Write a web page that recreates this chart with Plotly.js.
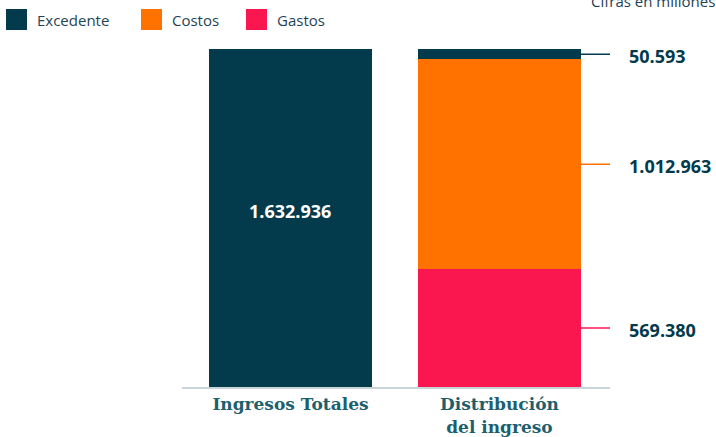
<!DOCTYPE html>
<html>
<head>
<meta charset="utf-8">
<script src="https://cdn.plot.ly/plotly-3.0.1.min.js"></script>
<style>html,body{margin:0;padding:0;background:#fff;overflow:hidden}#chart{width:716px;height:437px}</style>
</head>
<body>
<div id="chart"></div>
<script>
// ---- data ----
const categories = ['Ingresos Totales', 'Distribución<br>del ingreso'];
const ingresosTotales = [1632936];
const gastos = [569380];
const costos = [1012963];
const excedente = [50593];
const legendNames = ['Excedente', 'Costos', 'Gastos'];
const unitNote = 'Cifras en millones';

// ---- styling ----
const C = {Excedente: '#033a4c', Costos: '#ff7200', Gastos: '#fa164f'};
const W = 716, H = 437;
const M = {l: 182, r: 106, t: 49, b: 50};
const pw = W - M.l - M.r, ph = H - M.t - M.b;
const px = x => (x - M.l) / pw;
const py = y => (H - M.b - y) / ph;
const BW = 0.78;
const fmt = v => String(v).replace(/\B(?=(\d{3})+(?!\d))/g, '.');
const numFont = {family: 'Open Sans', size: 18, color: '#033a4c', weight: 700};

const traces = [
  {type: 'bar', x: [categories[0]], y: ingresosTotales, width: BW, marker: {color: C.Excedente},
   textposition: 'none', hoverinfo: 'none', showlegend: false},
  {type: 'bar', name: 'Gastos', x: [categories[1]], y: gastos, width: BW, marker: {color: C.Gastos}, textposition: 'none', showlegend: false},
  {type: 'bar', name: 'Costos', x: [categories[1]], y: costos, width: BW, marker: {color: C.Costos}, textposition: 'none', showlegend: false},
  {type: 'bar', name: 'Excedente', x: [categories[1]], y: excedente, width: BW, marker: {color: C.Excedente}, textposition: 'none', showlegend: false}
];

const shapes = [];
const annotations = [];

// value label inside the total bar
annotations.push({xref: 'x', yref: 'y', x: 0, y: ingresosTotales[0] / 2, yshift: 7,
  text: fmt(ingresosTotales[0]), showarrow: false,
  font: {family: 'Open Sans', size: 18, color: '#ffffff', weight: 700}});

// right-side leader labels for the stacked bar
const segs = [['Gastos', gastos[0]], ['Costos', costos[0]], ['Excedente', excedente[0]]];
let base = 0;
segs.forEach(([name, v]) => {
  const mid = base + v / 2;
  base += v;
  shapes.push({type: 'line', xref: 'x', yref: 'y', xsizemode: 'pixel', xanchor: 1 + BW / 2,
    x0: 0, x1: 36, y0: mid, y1: mid, line: {color: C[name], width: 1.5}});
  annotations.push({xref: 'x', yref: 'y', x: 1 + BW / 2, y: mid, xanchor: 'left', yanchor: 'middle',
    xshift: 46, yshift: -2, text: fmt(v), showarrow: false, font: numFont});
});

// custom legend
const legendX = [6, 141, 246];
legendNames.forEach((n, i) => {
  shapes.push({type: 'rect', xref: 'paper', yref: 'paper', x0: px(legendX[i]), x1: px(legendX[i] + 21),
    y0: py(30), y1: py(9), fillcolor: C[n], line: {width: 0}});
  annotations.push({xref: 'paper', yref: 'paper', x: px(legendX[i] + 29), y: py(20), xanchor: 'left', yanchor: 'middle',
    text: n, showarrow: false, font: {family: 'Open Sans', size: 15, color: '#1f4455'}});
});

annotations.push({xref: 'paper', yref: 'paper', x: px(589), y: py(1), xanchor: 'left', yanchor: 'middle',
  text: unitNote, showarrow: false, font: {family: 'Open Sans', size: 15, color: '#1f4455'}});

const layout = {
  width: W, height: H, margin: M, barmode: 'stack', separators: ',.',
  paper_bgcolor: '#fff', plot_bgcolor: '#fff', showlegend: false,
  xaxis: {type: 'category', range: [-0.519, 1.529], showline: true, linecolor: '#c9d4d9', linewidth: 2,
    ticks: '', showgrid: false, zeroline: false, fixedrange: true, ticklabelstandoff: 1,
    tickfont: {family: 'DejaVu Serif', size: 17, color: '#1d5f6e', weight: 700}},
  yaxis: {visible: false, range: [0, ingresosTotales[0]], showgrid: false, zeroline: false, fixedrange: true},
  shapes, annotations
};

Plotly.newPlot('chart', traces, layout, {displayModeBar: false, staticPlot: true});
</script>
</body>
</html>
